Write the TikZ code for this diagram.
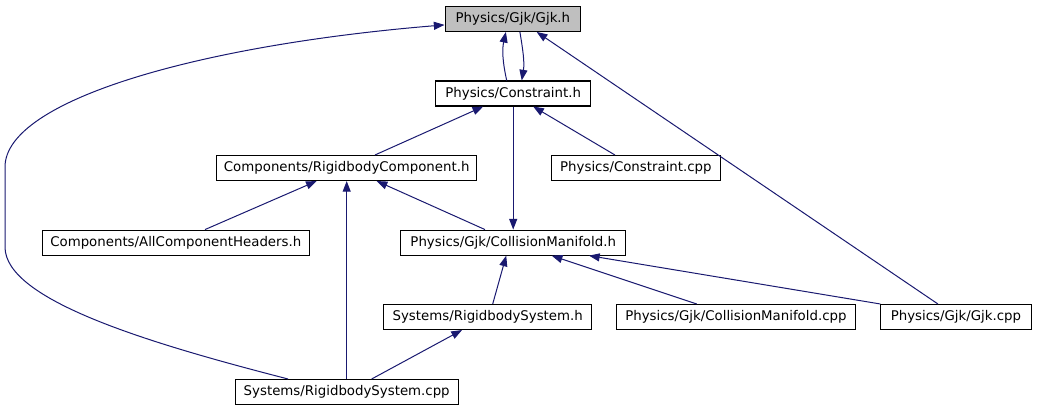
\documentclass[tikz,border=0pt]{standalone}
\usepackage{fontspec}
\setmainfont{DejaVu Sans}
\usetikzlibrary{arrows.meta,calc}
\newdimen\px \px=0.75pt
\definecolor{edgecol}{HTML}{191970}
\definecolor{mainfill}{HTML}{BFBFBF}
\tikzset{
  box/.style={draw=black, line width=0.8pt, fill=white, inner sep=0pt,
    minimum height=25\px, font=\fontsize{10pt}{12pt}\selectfont, text=black},
  edge/.style={draw=edgecol, line width=0.75pt,
    -{Triangle[length=8pt,width=6pt]}, color=edgecol},
}
\begin{document}
\begin{tikzpicture}[x=0.75pt,y=-0.75pt]
\useasboundingbox (0,0) rectangle (1037,411);
\node[box, fill=mainfill, minimum width=135.7\px] (gjkh) at (512.9,18.9) {Physics/Gjk/Gjk.h};
\node[box, minimum width=155\px] (constrh) at (513.2,93.5) {Physics/Constraint.h};
\node[box, minimum width=260\px] (rbch) at (346.7,168) {Components/RigidbodyComponent.h};
\node[box, minimum width=169.7\px] (constrcpp) at (635.9,168) {Physics/Constraint.cpp};
\node[box, minimum width=267\px] (allch) at (175.8,242.6) {Components/AllComponentHeaders.h};
\node[box, minimum width=225.5\px] (cmh) at (513.2,242.6) {Physics/Gjk/CollisionManifold.h};
\node[box, minimum width=208\px] (rbsh) at (487.7,317) {Systems/RigidbodySystem.h};
\node[box, minimum width=239.7\px] (cmcpp) at (735.9,317) {Physics/Gjk/CollisionManifold.cpp};
\node[box, minimum width=150.3\px] (gjkcpp) at (955.9,317) {Physics/Gjk/Gjk.cpp};
\node[box, minimum width=223.3\px] (rbscpp) at (346.7,392) {Systems/RigidbodySystem.cpp};

% Constraint.h <-> Gjk.h
\draw[edge] ($(constrh.north)+(-6.5,0)$) .. controls +(-4,-18) and +(-4,18) .. ($(gjkh.south)+(-7,0)$);
\draw[edge] ($(gjkh.south)+(7,0)$) .. controls +(3,18) and +(3,-18) .. ($(constrh.north)+(8.5,0)$);
% to Constraint.h
\draw[edge] ($(rbch.north)+(28.3,0)$) -- ($(constrh.south)+(-30,0)$);
\draw[edge] ($(constrcpp.north)+(-21,0)$) -- ($(constrh.south)+(20,0)$);
% Constraint.h -> CollisionManifold.h
\draw[edge] (constrh.south) -- (cmh.north);
% Gjk.cpp -> Gjk.h
\draw[edge] ($(gjkcpp.north)+(-18,0)$) -- ($(gjkh.south)+(23.8,0)$);
% to RigidbodyComponent.h
\draw[edge] ($(allch.north)+(29.2,0)$) -- ($(rbch.south)+(-30,0)$);
\draw[edge] (rbscpp.north) -- (rbch.south);
\draw[edge] ($(cmh.north)+(-28.2,0)$) -- ($(rbch.south)+(30,0)$);
% RigidbodySystem.cpp -> Gjk.h (long curve)
\coordinate (lc1) at (5,247);
\coordinate (lc2) at (5,167);
\draw[edge] ($(rbscpp.north)+(-58.7,0)$) .. controls (148,343) and (5,300) .. (lc1)
  -- (lc2) .. controls (5,100) and (200,45) .. ($(gjkh.west)+(0,6)$);
% to CollisionManifold.h
\draw[edge] ($(rbsh.north)+(5,0)$) -- ($(cmh.south)+(-7,0)$);
\draw[edge] ($(cmcpp.north)+(-39.2,0)$) -- ($(cmh.south)+(38.5,0)$);
\draw[edge] (gjkcpp.north west) -- ($(cmh.south)+(75.8,0)$);
% RigidbodySystem.cpp -> RigidbodySystem.h
\draw[edge] ($(rbscpp.north)+(25,0)$) -- ($(rbsh.south)+(-25.7,0)$);
\end{tikzpicture}
\end{document}
